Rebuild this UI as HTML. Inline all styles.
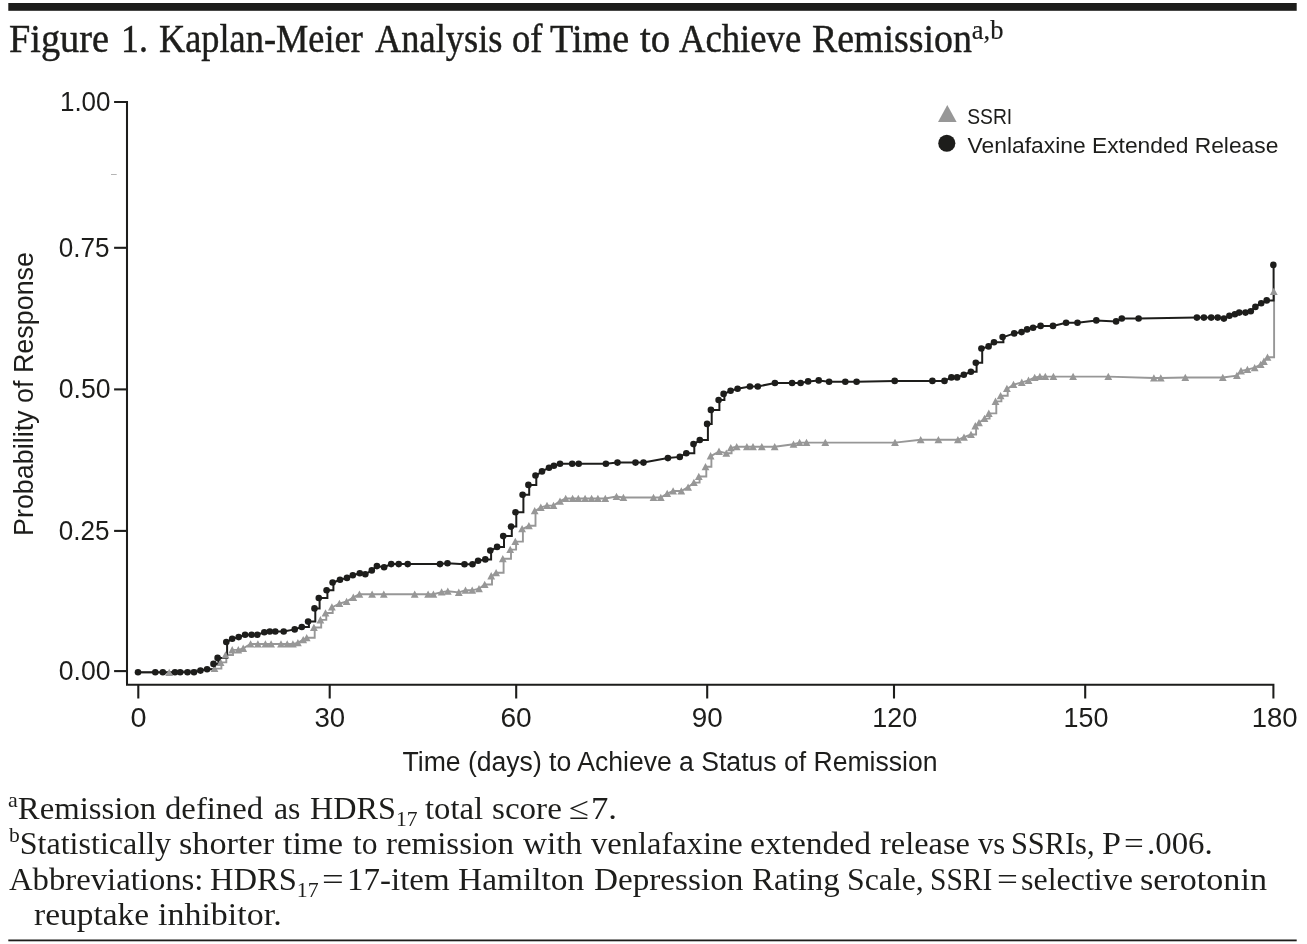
<!DOCTYPE html>
<html lang="en"><head><meta charset="utf-8"><title>Figure 1. Kaplan-Meier Analysis of Time to Achieve Remission</title>
<style>
html,body{margin:0;padding:0;background:#fff}
body{width:1307px;height:944px;position:relative;overflow:hidden;color:#1d1d1b}
h1,p{margin:0;font-weight:normal}

.w{position:absolute;top:0;white-space:nowrap;line-height:1;transform-origin:0 0;display:block}
.ln{position:absolute;left:0;width:1307px;height:0;font-family:"Liberation Serif","Times New Roman",serif;color:#1d1d1b}
.title{font-size:40px;-webkit-text-stroke:0.45px #1d1d1b}
.title sup{font-size:28px;vertical-align:baseline;position:relative;top:-13.4px;-webkit-text-stroke:0.2px #1d1d1b}
.fn{font-size:32px}
.fn sup{font-size:21.5px;vertical-align:baseline;position:relative;top:-12px}
.fn sub{font-size:21.5px;vertical-align:baseline;position:relative;top:7px}

</style></head><body>
<svg width="1307" height="944" viewBox="0 0 1307 944" style="position:absolute;left:0;top:0">
<rect x="8.3" y="3" width="1288.4" height="7.8" fill="#1d1d1b"/>
<rect x="8.3" y="939.5" width="1288.4" height="1.8" fill="#1d1d1b"/>
<path d="M114.1 101.9H127V684.8H1273.4V698.5" fill="none" stroke="#1d1d1b" stroke-width="2.05" stroke-linejoin="miter"/>
<path d="M114.1 247.8H127" stroke="#1d1d1b" stroke-width="2.1"/>
<path d="M114.1 389.4H127" stroke="#1d1d1b" stroke-width="2.1"/>
<path d="M114.1 530.9H127" stroke="#1d1d1b" stroke-width="2.1"/>
<path d="M114.1 671.1H127" stroke="#1d1d1b" stroke-width="2.1"/>
<path d="M138.3 684.8V698.5" stroke="#1d1d1b" stroke-width="2.1"/>
<path d="M329.7 684.8V698.5" stroke="#1d1d1b" stroke-width="2.1"/>
<path d="M516.2 684.8V698.5" stroke="#1d1d1b" stroke-width="2.1"/>
<path d="M707.2 684.8V698.5" stroke="#1d1d1b" stroke-width="2.1"/>
<path d="M894.0 684.8V698.5" stroke="#1d1d1b" stroke-width="2.1"/>
<path d="M1085.2 684.8V698.5" stroke="#1d1d1b" stroke-width="2.1"/>
<path d="M111 174.5H116.7" stroke="#b5b5b5" stroke-width="1"/>
<text id="y1.00" x="59.95" y="110.7" font-family="Liberation Sans, Arial, sans-serif" font-size="27.4" fill="#1d1d1b" textLength="50.61" lengthAdjust="spacingAndGlyphs">1.00</text>
<text id="y0.75" x="58.80" y="256.6" font-family="Liberation Sans, Arial, sans-serif" font-size="27.4" fill="#1d1d1b" textLength="50.76" lengthAdjust="spacingAndGlyphs">0.75</text>
<text id="y0.50" x="58.71" y="398.2" font-family="Liberation Sans, Arial, sans-serif" font-size="27.4" fill="#1d1d1b" textLength="51.79" lengthAdjust="spacingAndGlyphs">0.50</text>
<text id="y0.25" x="58.80" y="539.7" font-family="Liberation Sans, Arial, sans-serif" font-size="27.4" fill="#1d1d1b" textLength="50.76" lengthAdjust="spacingAndGlyphs">0.25</text>
<text id="y0.00" x="58.71" y="679.9" font-family="Liberation Sans, Arial, sans-serif" font-size="27.4" fill="#1d1d1b" textLength="51.79" lengthAdjust="spacingAndGlyphs">0.00</text>
<text id="x0" x="130.45" y="726.5" font-family="Liberation Sans, Arial, sans-serif" font-size="27.4" fill="#1d1d1b" textLength="16.04" lengthAdjust="spacingAndGlyphs">0</text>
<text id="x30" x="314.43" y="726.5" font-family="Liberation Sans, Arial, sans-serif" font-size="27.4" fill="#1d1d1b" textLength="30.72" lengthAdjust="spacingAndGlyphs">30</text>
<text id="x60" x="500.42" y="726.5" font-family="Liberation Sans, Arial, sans-serif" font-size="27.4" fill="#1d1d1b" textLength="31.29" lengthAdjust="spacingAndGlyphs">60</text>
<text id="x90" x="691.65" y="726.5" font-family="Liberation Sans, Arial, sans-serif" font-size="27.4" fill="#1d1d1b" textLength="30.98" lengthAdjust="spacingAndGlyphs">90</text>
<text id="x120" x="872.32" y="726.5" font-family="Liberation Sans, Arial, sans-serif" font-size="27.4" fill="#1d1d1b" textLength="45.01" lengthAdjust="spacingAndGlyphs">120</text>
<text id="x150" x="1063.58" y="726.5" font-family="Liberation Sans, Arial, sans-serif" font-size="27.4" fill="#1d1d1b" textLength="44.89" lengthAdjust="spacingAndGlyphs">150</text>
<text id="x180" x="1251.65" y="726.5" font-family="Liberation Sans, Arial, sans-serif" font-size="27.4" fill="#1d1d1b" textLength="45.93" lengthAdjust="spacingAndGlyphs">180</text>
<text x="402.5" y="771.3" font-family="Liberation Sans, Arial, sans-serif" font-size="27" fill="#1d1d1b" textLength="535" lengthAdjust="spacingAndGlyphs">Time (days) to Achieve a Status of Remission</text>
<text transform="translate(32.6 536) rotate(-90)" font-family="Liberation Sans, Arial, sans-serif" font-size="27" fill="#1d1d1b" textLength="284" lengthAdjust="spacingAndGlyphs">Probability of Response</text>
<path d="M947.3 105.1L956.6 121.9H938Z" fill="#979797"/>
<circle cx="946.8" cy="143.3" r="8.55" fill="#1d1d1b"/>
<text x="967.2" y="123.7" font-family="Liberation Sans, Arial, sans-serif" font-size="22.2" fill="#1d1d1b" textLength="45" lengthAdjust="spacingAndGlyphs">SSRI</text>
<text x="967.6" y="153" font-family="Liberation Sans, Arial, sans-serif" font-size="22.2" fill="#1d1d1b" textLength="310.8" lengthAdjust="spacingAndGlyphs">Venlafaxine Extended Release</text>
<path d="M138.0 672.5 L169.2 672.5 L214.5 668.6 H221.4 V662.4 H226.3 V655.0 H233.0 V649.9 L238.3 649.9 L243.2 648.4 L250.6 644.0 L257.9 644.0 L265.4 644.0 L271.1 644.0 L281.0 644.0 L287.2 644.0 L292.9 644.0 L297.9 642.8 L303.2 639.7 L306.7 637.8 H314.7 V627.5 H321.2 V619.9 H326.3 V613.0 H332.7 V607.0 L339.4 603.6 L346.6 601.5 L353.3 597.4 L359.4 594.2 L372.1 594.2 L383.8 594.2 L414.7 594.2 L428.1 594.2 L433.4 594.2 L441.6 592.1 L447.8 591.2 L458.8 592.4 L465.5 590.3 L472.2 590.3 L479.0 588.7 L484.7 584.5 H492.0 V575.9 L496.1 572.8 H503.6 V558.8 H511.0 V549.6 H516.1 V541.6 H522.9 V528.8 L528.9 525.7 H535.5 V510.8 L540.8 507.4 L547.0 505.6 L553.5 505.6 L560.0 501.2 L565.7 498.5 L572.6 498.5 L578.3 498.5 L585.1 498.5 L591.6 498.5 L597.9 498.5 L605.3 498.5 L616.5 496.5 L623.4 497.5 L653.5 497.5 L660.8 497.5 L667.2 493.6 L673.1 491.0 L681.3 491.0 L688.1 487.2 L693.9 482.6 H699.6 V476.5 H706.3 V466.7 H711.4 V455.9 L719.0 451.4 L726.3 453.2 H731.6 V447.7 L736.7 446.8 L746.9 446.8 L753.0 446.8 L761.8 446.8 L774.7 446.8 L793.5 444.2 L799.6 442.6 L806.5 442.6 L825.3 442.6 L895.0 442.6 L920.7 439.8 L938.4 439.8 L957.9 439.8 L964.0 437.2 L971.0 434.5 H976.1 V425.9 L979.0 422.8 L984.5 418.6 H989.6 V413.4 H996.3 V401.4 H1001.4 V395.7 H1007.7 V388.6 L1013.5 384.6 L1021.8 382.4 L1028.5 380.4 L1034.7 377.5 L1039.9 376.6 L1045.3 376.6 L1053.4 376.6 L1073.1 376.6 L1108.3 376.6 L1153.9 378.0 L1160.8 378.0 L1185.3 377.5 L1222.8 377.5 L1236.9 375.6 L1241.0 370.9 L1247.4 369.6 L1254.7 367.7 L1260.7 364.5 L1263.9 361.4 L1267.5 357.2 H1274.1 V291.5" fill="none" stroke="#979797" stroke-width="1.9" stroke-linejoin="miter"/>
<path d="M138.0 672.2 L155.3 672.2 L162.8 672.2 L175.0 672.2 L180.2 672.2 L187.5 672.2 L194.0 672.2 L200.5 670.6 L207.1 669.2 H214.3 V663.9 H218.4 V657.9 H227.1 V642.0 L232.2 638.8 L238.7 637.1 L245.1 634.8 L251.6 634.8 L257.3 634.8 L264.3 632.3 L269.8 631.5 L275.3 631.5 L283.7 631.5 L294.7 629.4 L301.8 627.0 H308.9 V621.6 H315.3 V608.4 H319.6 V598.0 H327.4 V590.3 H333.4 V582.5 L340.0 579.8 L347.0 577.9 L352.8 575.3 L359.8 573.3 L365.3 574.3 L371.8 570.4 L376.9 566.1 L384.1 567.2 L391.2 564.1 L398.7 564.1 L407.7 564.1 L440.0 564.1 L447.5 563.3 L464.5 564.2 L472.5 564.2 L478.1 560.8 L485.3 559.4 H491.1 V550.6 L497.1 546.9 H504.0 V536.1 H511.8 V526.6 H516.3 V512.2 H523.4 V494.7 H529.2 V484.9 H536.3 V475.5 L542.0 471.4 L549.0 467.7 L553.9 465.7 L560.0 463.8 L572.2 463.8 L578.7 463.8 L605.9 463.8 L617.5 462.6 L635.5 462.6 L643.5 462.6 L667.9 458.1 L679.8 456.9 L686.3 453.2 H694.3 V444.1 L699.8 440.0 H707.9 V423.9 H711.7 V409.9 H719.4 V400.0 H724.4 V393.9 L730.6 390.8 L737.6 388.7 L749.9 386.5 L757.8 386.5 L774.9 383.0 L792.1 383.0 L800.6 383.0 L808.1 381.4 L818.7 380.4 L829.1 381.7 L845.3 381.7 L856.6 381.7 L894.7 380.9 L932.4 380.9 L944.5 380.9 L951.4 377.4 L957.1 377.4 L963.8 374.7 L970.9 371.8 H976.6 V362.8 H982.2 V348.5 L988.6 346.4 L994.0 342.2 H1003.4 V337.1 L1014.2 333.4 L1021.6 332.1 L1027.1 329.4 L1033.1 327.8 L1040.6 325.9 L1053.0 325.9 L1066.1 322.7 L1077.5 322.7 L1096.3 320.4 L1116.1 321.4 L1121.8 318.5 L1138.6 318.5 L1196.9 317.6 L1203.9 317.6 L1211.2 317.6 L1217.7 317.6 L1223.9 318.6 L1229.4 315.7 L1234.9 314.3 L1239.2 312.6 L1245.5 312.6 L1250.8 311.2 L1255.4 306.9 L1261.2 303.3 L1266.7 300.4 H1273.6 V264.9" fill="none" stroke="#1d1d1b" stroke-width="2.0" stroke-linejoin="miter"/>
<path d="M169.2 668.7l3.9 7.3h-7.8z M214.5 664.8l3.9 7.3h-7.8z M220.6 658.6l3.9 7.3h-7.8z M225.5 651.2l3.9 7.3h-7.8z M232.2 646.1l3.9 7.3h-7.8z M238.3 646.1l3.9 7.3h-7.8z M243.2 644.6l3.9 7.3h-7.8z M250.6 640.2l3.9 7.3h-7.8z M257.9 640.2l3.9 7.3h-7.8z M265.4 640.2l3.9 7.3h-7.8z M271.1 640.2l3.9 7.3h-7.8z M281.0 640.2l3.9 7.3h-7.8z M287.2 640.2l3.9 7.3h-7.8z M292.9 640.2l3.9 7.3h-7.8z M297.9 639.0l3.9 7.3h-7.8z M303.2 635.9l3.9 7.3h-7.8z M306.7 634.0l3.9 7.3h-7.8z M313.9 623.7l3.9 7.3h-7.8z M320.4 616.1l3.9 7.3h-7.8z M325.5 609.2l3.9 7.3h-7.8z M331.9 603.2l3.9 7.3h-7.8z M339.4 599.8l3.9 7.3h-7.8z M346.6 597.7l3.9 7.3h-7.8z M353.3 593.6l3.9 7.3h-7.8z M359.4 590.4l3.9 7.3h-7.8z M372.1 590.4l3.9 7.3h-7.8z M383.8 590.4l3.9 7.3h-7.8z M414.7 590.4l3.9 7.3h-7.8z M428.1 590.4l3.9 7.3h-7.8z M433.4 590.4l3.9 7.3h-7.8z M441.6 588.3l3.9 7.3h-7.8z M447.8 587.4l3.9 7.3h-7.8z M458.8 588.6l3.9 7.3h-7.8z M465.5 586.5l3.9 7.3h-7.8z M472.2 586.5l3.9 7.3h-7.8z M479.0 584.9l3.9 7.3h-7.8z M484.7 580.7l3.9 7.3h-7.8z M491.2 572.1l3.9 7.3h-7.8z M496.1 569.0l3.9 7.3h-7.8z M502.8 555.0l3.9 7.3h-7.8z M510.2 545.8l3.9 7.3h-7.8z M515.3 537.8l3.9 7.3h-7.8z M522.1 525.0l3.9 7.3h-7.8z M528.9 521.9l3.9 7.3h-7.8z M534.7 507.0l3.9 7.3h-7.8z M540.8 503.6l3.9 7.3h-7.8z M547.0 501.8l3.9 7.3h-7.8z M553.5 501.8l3.9 7.3h-7.8z M560.0 497.4l3.9 7.3h-7.8z M565.7 494.7l3.9 7.3h-7.8z M572.6 494.7l3.9 7.3h-7.8z M578.3 494.7l3.9 7.3h-7.8z M585.1 494.7l3.9 7.3h-7.8z M591.6 494.7l3.9 7.3h-7.8z M597.9 494.7l3.9 7.3h-7.8z M605.3 494.7l3.9 7.3h-7.8z M616.5 492.7l3.9 7.3h-7.8z M623.4 493.7l3.9 7.3h-7.8z M653.5 493.7l3.9 7.3h-7.8z M660.8 493.7l3.9 7.3h-7.8z M667.2 489.8l3.9 7.3h-7.8z M673.1 487.2l3.9 7.3h-7.8z M681.3 487.2l3.9 7.3h-7.8z M688.1 483.4l3.9 7.3h-7.8z M693.9 478.8l3.9 7.3h-7.8z M698.8 472.7l3.9 7.3h-7.8z M705.5 462.9l3.9 7.3h-7.8z M710.6 452.1l3.9 7.3h-7.8z M719.0 447.6l3.9 7.3h-7.8z M726.3 449.4l3.9 7.3h-7.8z M730.8 443.9l3.9 7.3h-7.8z M736.7 443.0l3.9 7.3h-7.8z M746.9 443.0l3.9 7.3h-7.8z M753.0 443.0l3.9 7.3h-7.8z M761.8 443.0l3.9 7.3h-7.8z M774.7 443.0l3.9 7.3h-7.8z M793.5 440.4l3.9 7.3h-7.8z M799.6 438.8l3.9 7.3h-7.8z M806.5 438.8l3.9 7.3h-7.8z M825.3 438.8l3.9 7.3h-7.8z M895.0 438.8l3.9 7.3h-7.8z M920.7 436.0l3.9 7.3h-7.8z M938.4 436.0l3.9 7.3h-7.8z M957.9 436.0l3.9 7.3h-7.8z M964.0 433.4l3.9 7.3h-7.8z M971.0 430.7l3.9 7.3h-7.8z M975.3 422.1l3.9 7.3h-7.8z M979.0 419.0l3.9 7.3h-7.8z M984.5 414.8l3.9 7.3h-7.8z M988.8 409.6l3.9 7.3h-7.8z M995.5 397.6l3.9 7.3h-7.8z M1000.6 391.9l3.9 7.3h-7.8z M1006.9 384.8l3.9 7.3h-7.8z M1013.5 380.8l3.9 7.3h-7.8z M1021.8 378.6l3.9 7.3h-7.8z M1028.5 376.6l3.9 7.3h-7.8z M1034.7 373.7l3.9 7.3h-7.8z M1039.9 372.8l3.9 7.3h-7.8z M1045.3 372.8l3.9 7.3h-7.8z M1053.4 372.8l3.9 7.3h-7.8z M1073.1 372.8l3.9 7.3h-7.8z M1108.3 372.8l3.9 7.3h-7.8z M1153.9 374.2l3.9 7.3h-7.8z M1160.8 374.2l3.9 7.3h-7.8z M1185.3 373.7l3.9 7.3h-7.8z M1222.8 373.7l3.9 7.3h-7.8z M1236.9 371.8l3.9 7.3h-7.8z M1241.0 367.1l3.9 7.3h-7.8z M1247.4 365.8l3.9 7.3h-7.8z M1254.7 363.9l3.9 7.3h-7.8z M1260.7 360.7l3.9 7.3h-7.8z M1263.9 357.6l3.9 7.3h-7.8z M1267.5 353.4l3.9 7.3h-7.8z M1273.8 287.7l3.9 7.3h-7.8z" fill="#979797"/>
<g fill="#1d1d1b"><circle cx="138.0" cy="672.2" r="3.3"/><circle cx="155.3" cy="672.2" r="3.3"/><circle cx="162.8" cy="672.2" r="3.3"/><circle cx="175.0" cy="672.2" r="3.3"/><circle cx="180.2" cy="672.2" r="3.3"/><circle cx="187.5" cy="672.2" r="3.3"/><circle cx="194.0" cy="672.2" r="3.3"/><circle cx="200.5" cy="670.6" r="3.3"/><circle cx="207.1" cy="669.2" r="3.3"/><circle cx="213.5" cy="663.9" r="3.3"/><circle cx="217.6" cy="657.9" r="3.3"/><circle cx="226.3" cy="642.0" r="3.3"/><circle cx="232.2" cy="638.8" r="3.3"/><circle cx="238.7" cy="637.1" r="3.3"/><circle cx="245.1" cy="634.8" r="3.3"/><circle cx="251.6" cy="634.8" r="3.3"/><circle cx="257.3" cy="634.8" r="3.3"/><circle cx="264.3" cy="632.3" r="3.3"/><circle cx="269.8" cy="631.5" r="3.3"/><circle cx="275.3" cy="631.5" r="3.3"/><circle cx="283.7" cy="631.5" r="3.3"/><circle cx="294.7" cy="629.4" r="3.3"/><circle cx="301.8" cy="627.0" r="3.3"/><circle cx="308.1" cy="621.6" r="3.3"/><circle cx="314.5" cy="608.4" r="3.3"/><circle cx="318.8" cy="598.0" r="3.3"/><circle cx="326.6" cy="590.3" r="3.3"/><circle cx="332.6" cy="582.5" r="3.3"/><circle cx="340.0" cy="579.8" r="3.3"/><circle cx="347.0" cy="577.9" r="3.3"/><circle cx="352.8" cy="575.3" r="3.3"/><circle cx="359.8" cy="573.3" r="3.3"/><circle cx="365.3" cy="574.3" r="3.3"/><circle cx="371.8" cy="570.4" r="3.3"/><circle cx="376.9" cy="566.1" r="3.3"/><circle cx="384.1" cy="567.2" r="3.3"/><circle cx="391.2" cy="564.1" r="3.3"/><circle cx="398.7" cy="564.1" r="3.3"/><circle cx="407.7" cy="564.1" r="3.3"/><circle cx="440.0" cy="564.1" r="3.3"/><circle cx="447.5" cy="563.3" r="3.3"/><circle cx="464.5" cy="564.2" r="3.3"/><circle cx="472.5" cy="564.2" r="3.3"/><circle cx="478.1" cy="560.8" r="3.3"/><circle cx="485.3" cy="559.4" r="3.3"/><circle cx="490.3" cy="550.6" r="3.3"/><circle cx="497.1" cy="546.9" r="3.3"/><circle cx="503.2" cy="536.1" r="3.3"/><circle cx="511.0" cy="526.6" r="3.3"/><circle cx="515.5" cy="512.2" r="3.3"/><circle cx="522.6" cy="494.7" r="3.3"/><circle cx="528.4" cy="484.9" r="3.3"/><circle cx="535.5" cy="475.5" r="3.3"/><circle cx="542.0" cy="471.4" r="3.3"/><circle cx="549.0" cy="467.7" r="3.3"/><circle cx="553.9" cy="465.7" r="3.3"/><circle cx="560.0" cy="463.8" r="3.3"/><circle cx="572.2" cy="463.8" r="3.3"/><circle cx="578.7" cy="463.8" r="3.3"/><circle cx="605.9" cy="463.8" r="3.3"/><circle cx="617.5" cy="462.6" r="3.3"/><circle cx="635.5" cy="462.6" r="3.3"/><circle cx="643.5" cy="462.6" r="3.3"/><circle cx="667.9" cy="458.1" r="3.3"/><circle cx="679.8" cy="456.9" r="3.3"/><circle cx="686.3" cy="453.2" r="3.3"/><circle cx="693.5" cy="444.1" r="3.3"/><circle cx="699.8" cy="440.0" r="3.3"/><circle cx="707.1" cy="423.9" r="3.3"/><circle cx="710.9" cy="409.9" r="3.3"/><circle cx="718.6" cy="400.0" r="3.3"/><circle cx="723.6" cy="393.9" r="3.3"/><circle cx="730.6" cy="390.8" r="3.3"/><circle cx="737.6" cy="388.7" r="3.3"/><circle cx="749.9" cy="386.5" r="3.3"/><circle cx="757.8" cy="386.5" r="3.3"/><circle cx="774.9" cy="383.0" r="3.3"/><circle cx="792.1" cy="383.0" r="3.3"/><circle cx="800.6" cy="383.0" r="3.3"/><circle cx="808.1" cy="381.4" r="3.3"/><circle cx="818.7" cy="380.4" r="3.3"/><circle cx="829.1" cy="381.7" r="3.3"/><circle cx="845.3" cy="381.7" r="3.3"/><circle cx="856.6" cy="381.7" r="3.3"/><circle cx="894.7" cy="380.9" r="3.3"/><circle cx="932.4" cy="380.9" r="3.3"/><circle cx="944.5" cy="380.9" r="3.3"/><circle cx="951.4" cy="377.4" r="3.3"/><circle cx="957.1" cy="377.4" r="3.3"/><circle cx="963.8" cy="374.7" r="3.3"/><circle cx="970.9" cy="371.8" r="3.3"/><circle cx="975.8" cy="362.8" r="3.3"/><circle cx="981.4" cy="348.5" r="3.3"/><circle cx="988.6" cy="346.4" r="3.3"/><circle cx="994.0" cy="342.2" r="3.3"/><circle cx="1002.6" cy="337.1" r="3.3"/><circle cx="1014.2" cy="333.4" r="3.3"/><circle cx="1021.6" cy="332.1" r="3.3"/><circle cx="1027.1" cy="329.4" r="3.3"/><circle cx="1033.1" cy="327.8" r="3.3"/><circle cx="1040.6" cy="325.9" r="3.3"/><circle cx="1053.0" cy="325.9" r="3.3"/><circle cx="1066.1" cy="322.7" r="3.3"/><circle cx="1077.5" cy="322.7" r="3.3"/><circle cx="1096.3" cy="320.4" r="3.3"/><circle cx="1116.1" cy="321.4" r="3.3"/><circle cx="1121.8" cy="318.5" r="3.3"/><circle cx="1138.6" cy="318.5" r="3.3"/><circle cx="1196.9" cy="317.6" r="3.3"/><circle cx="1203.9" cy="317.6" r="3.3"/><circle cx="1211.2" cy="317.6" r="3.3"/><circle cx="1217.7" cy="317.6" r="3.3"/><circle cx="1223.9" cy="318.6" r="3.3"/><circle cx="1229.4" cy="315.7" r="3.3"/><circle cx="1234.9" cy="314.3" r="3.3"/><circle cx="1239.2" cy="312.6" r="3.3"/><circle cx="1245.5" cy="312.6" r="3.3"/><circle cx="1250.8" cy="311.2" r="3.3"/><circle cx="1255.4" cy="306.9" r="3.3"/><circle cx="1261.2" cy="303.3" r="3.3"/><circle cx="1266.7" cy="300.4" r="3.3"/><circle cx="1273.3" cy="264.9" r="3.3"/></g>
</svg>
<h1 class="ln title" style="top:19.30px"><span class="w" style="left:9.26px;transform:scaleX(0.9576)">Figure</span> <span class="w" style="left:121.01px;transform:scaleX(0.8941)">1.</span> <span class="w" style="left:159.04px;transform:scaleX(0.9083)">Kaplan-Meier</span> <span class="w" style="left:374.96px;transform:scaleX(0.9105)">Analysis</span> <span class="w" style="left:511.59px;transform:scaleX(0.9163)">of</span> <span class="w" style="left:550.32px;transform:scaleX(0.9522)">Time</span> <span class="w" style="left:640.12px;transform:scaleX(0.9696)">to</span> <span class="w" style="left:679.45px;transform:scaleX(0.9169)">Achieve</span> <span class="w" style="left:812.27px;transform:scaleX(0.9464)">Remission<sup>a,b</sup></span></h1>
<p class="ln fn" style="top:791.50px"><span class="w" style="left:8.28px;transform:scaleX(1.0248)"><sup>a</sup>Remission</span> <span class="w" style="left:165.25px;transform:scaleX(1.0226)">defined</span> <span class="w" style="left:273.94px;transform:scaleX(0.9905)">as</span> <span class="w" style="left:309.53px;transform:scaleX(1.0063)">HDRS<sub>17</sub></span> <span class="w" style="left:425.49px;transform:scaleX(1.0218)">total</span> <span class="w" style="left:492.1px;transform:scaleX(1.0341)">score</span> <span class="w" style="left:568.73px;transform:scaleX(1.1422)">&le;</span> <span class="w" style="left:591.09px;transform:scaleX(1.0849)">7.</span></p>
<p class="ln fn" style="top:827.20px"><span class="w" style="left:9.24px;transform:scaleX(1.0014)"><sup>b</sup>Statistically</span> <span class="w" style="left:179.45px;transform:scaleX(1.0704)">shorter</span> <span class="w" style="left:283.28px;transform:scaleX(1.0572)">time</span> <span class="w" style="left:353.31px;transform:scaleX(0.9859)">to</span> <span class="w" style="left:385.87px;transform:scaleX(1.0289)">remission</span> <span class="w" style="left:522.79px;transform:scaleX(1.039)">with</span> <span class="w" style="left:590.53px;transform:scaleX(1.0167)">venlafaxine</span> <span class="w" style="left:749.74px;transform:scaleX(1.0474)">extended</span> <span class="w" style="left:879.88px;transform:scaleX(1.0129)">release</span> <span class="w" style="left:977.54px;transform:scaleX(0.9524)">vs</span> <span class="w" style="left:1010.92px;transform:scaleX(0.9482)">SSRIs,</span> <span class="w" style="left:1101.67px;transform:scaleX(1.0647)">P</span> <span class="w" style="left:1124.15px;transform:scaleX(1.0954)">=</span> <span class="w" style="left:1146.51px;transform:scaleX(1.028)">.006.</span></p>
<p class="ln fn" style="top:862.80px"><span class="w" style="left:8.76px;transform:scaleX(1.0222)">Abbreviations:</span> <span class="w" style="left:210.02px;transform:scaleX(1.0177)">HDRS<sub>17</sub></span> <span class="w" style="left:321.68px;transform:scaleX(1.2029)">=</span> <span class="w" style="left:346.77px;transform:scaleX(1.0311)">17-item</span> <span class="w" style="left:457.59px;transform:scaleX(1.0445)">Hamilton</span> <span class="w" style="left:593.7px;transform:scaleX(1.0373)">Depression</span> <span class="w" style="left:752.01px;transform:scaleX(1.0273)">Rating</span> <span class="w" style="left:847.03px;transform:scaleX(0.993)">Scale,</span> <span class="w" style="left:929.78px;transform:scaleX(0.9214)">SSRI</span> <span class="w" style="left:996.55px;transform:scaleX(1.1559)">=</span> <span class="w" style="left:1020.64px;transform:scaleX(1.0003)">selective</span> <span class="w" style="left:1140.35px;transform:scaleX(1.0658)">serotonin</span></p>
<p class="ln fn" style="top:898.20px"><span class="w" style="left:33.66px;transform:scaleX(1.0453)">reuptake</span> <span class="w" style="left:157.67px;transform:scaleX(1.0617)">inhibitor.</span></p>
</body></html>
